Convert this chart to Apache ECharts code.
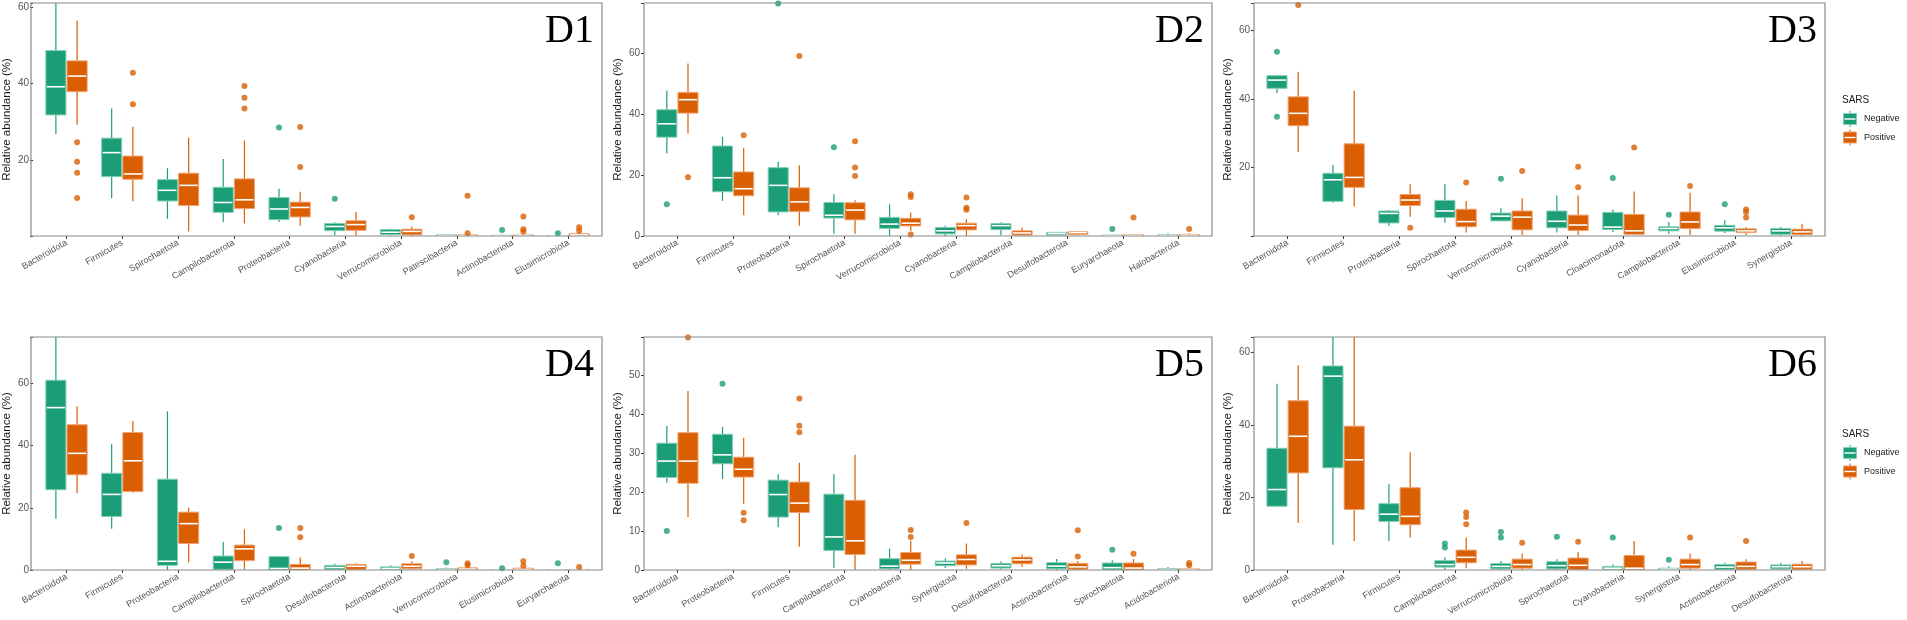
<!DOCTYPE html>
<html lang="en">
<head>
<meta charset="UTF-8">
<title>Relative abundance boxplots D1-D6</title>
<script src="https://cdn.jsdelivr.net/npm/echarts@6/dist/echarts.min.js"></script>
<style>
  html, body { margin: 0; padding: 0; background: #fff; }
  #chart { width: 1907px; height: 620px; }
</style>
</head>
<body>
<div id="chart"></div>
<script>
// ---- data: [min, q1, median, q3, max] per category, outliers as [categoryIndex, value] ----
var d1Cats = ['Bacteroidota','Firmicutes','Spirochaetota','Campilobacterota','Proteobacteria','Cyanobacteria','Verrucomicrobiota','Patescibacteria','Actinobacteriota','Elusimicrobiota'];
var d1Neg = [[26.8,31.8,39.2,48.7,68],[9.9,15.6,21.9,25.7,33.5],[4.5,9.2,12,14.8,17.8],[3.6,6.2,8.8,12.8,20.2],[3.7,4.3,7.1,10.1,12.4],
             [0.2,1.4,2.5,3.3,3.6],[0.1,0.4,1.0,1.7,1.9],[0,0.05,0.15,0.35,0.5],[0,0.02,0.1,0.2,0.4],[0,0.02,0.05,0.1,0.2]];
var d1Pos = [[29.2,37.9,42,46,56.6],[9.1,14.9,16.3,21,28.7],[1.2,8,13.3,16.5,25.9],[3.3,7.2,9.5,15,25.1],[2.7,5,7.5,8.9,11.6],
             [0.1,1.5,3,4,6.3],[0,0.3,1.2,1.8,2.5],[0,0.05,0.1,0.3,0.5],[0,0.05,0.15,0.3,0.6],[0,0.1,0.3,0.6,1.0]];
var d1NegOut = [[4,28.5],[5,9.8],[8,1.6],[9,0.7]];
var d1PosOut = [[0,24.6],[0,19.5],[0,16.6],[0,10],[1,42.9],[1,34.6],[3,39.4],[3,36.3],[3,33.5],[4,28.6],[4,18.1],[6,4.9],[7,10.6],[7,0.7],[8,5.1],[8,1.8],[8,1.2],[9,2.3],[9,1.4]];

var d2Cats = ['Bacteroidota','Firmicutes','Proteobacteria','Spirochaetota','Verrucomicrobiota','Cyanobacteria','Campilobacterota','Desulfobacterota','Euryarchaeota','Halobacterota'];
var d2Neg = [[27.1,32.4,36.8,41.4,47.7],[11.5,14.5,19.1,29.5,32.5],[6.8,7.9,16.6,22.4,24.3],[0.7,5.9,6.8,11,13.7],[0,2.5,3.9,6.1,10.4],
             [0,0.7,1.7,2.8,3.4],[0.3,2.1,3.4,4.1,4.5],[0,0.3,0.8,1.2,1.3],[0,0.05,0.1,0.3,0.5],[0,0.05,0.15,0.4,0.9]];
var d2Pos = [[33.6,40.3,44.7,47.1,56.6],[6.8,13.2,15.5,21,28.9],[3.4,8,11.2,15.8,23.2],[0.7,5.3,8.5,10.9,11.7],[1.7,3.3,4.2,5.8,7.7],
             [0,2,3.4,4.2,5.5],[0,0.3,1,1.7,2.8],[0.2,0.5,1.1,1.4,1.6],[0,0.05,0.15,0.4,0.6],[0,0.05,0.2,0.5,1.0]];
var d2NegOut = [[0,10.4],[2,76.2],[3,29.1],[8,2.3]];
var d2PosOut = [[0,19.3],[1,33],[2,59],[3,31.1],[3,22.5],[3,19.7],[4,13.7],[4,12.8],[4,0.5],[5,12.6],[5,9.3],[5,8.6],[8,6.1],[9,2.3]];

var d3Cats = ['Bacteroidota','Firmicutes','Proteobacteria','Spirochaetota','Verrucomicrobiota','Cyanobacteria','Cloacimonadota','Campilobacterota','Elusimicrobiota','Synergistota'];
var d3Neg = [[41.7,43.1,45.5,46.8,46.8],[9.7,10.1,16.4,18.3,20.7],[2.9,3.8,6.6,7.3,7.6],[3.9,5.4,7.3,10.4,15.1],[4.4,4.4,5.8,6.7,8.1],
             [1,2.4,4.3,7.3,11.8],[1.2,1.9,2.6,6.9,7.7],[0.6,1.5,2.2,2.7,4.1],[0.9,1.4,2.4,3.1,4.6],[0.1,0.5,1.5,2.2,2.6]];
var d3Pos = [[24.5,32.2,35.8,40.6,47.9],[8.6,14.2,17.1,26.9,42.4],[5.6,8.9,10.5,12.1,15.1],[1,2.7,4.2,7.8,10.2],[0.3,1.8,5.5,7.3,11],
             [0.3,1.6,3.2,6.1,11.8],[0.3,0.5,1.5,6.3,13],[0.3,2.2,4.1,7,12.6],[0.3,1,1.5,2.1,2.6],[0.1,0.4,1.2,2,3.6]];
var d3NegOut = [[0,53.8],[0,34.8],[4,16.7],[6,16.9],[7,6.2],[8,9.3]];
var d3PosOut = [[0,67.4],[2,2.4],[3,15.6],[4,19],[5,20.2],[5,14.2],[6,25.8],[7,14.6],[8,7.7],[8,7],[8,5.4]];

var d4Cats = ['Bacteroidota','Firmicutes','Proteobacteria','Campilobacterota','Spirochaetota','Desulfobacterota','Actinobacteriota','Verrucomicrobiota','Elusimicrobiota','Euryarchaeota'];
var d4Neg = [[16.5,25.8,52.2,61,80],[13.3,17.2,24.3,31.1,40.5],[0,1.5,2.8,29.2,51],[0,0.2,2.5,4.5,9],[0,0,0.5,4.3,4.5],
             [0,0.1,0.8,1.5,2],[0,0.1,0.5,1,1.5],[0,0.05,0.1,0.4,0.8],[0,0.02,0.05,0.1,0.2],[0,0.02,0.05,0.1,0.2]];
var d4Pos = [[24.7,30.6,37.5,46.7,52.6],[24.8,25.2,35.1,44.2,47.9],[2.5,8.5,14.9,18.6,20],[0.2,3,6.8,8,13.1],[0,0,0.6,1.8,4],
             [0.2,0.2,1.2,1.8,2.2],[0.2,0.4,1.2,2,2.8],[0,0.05,0.3,0.7,1.2],[0,0.05,0.2,0.6,1],[0,0.02,0.1,0.2,0.4]];
var d4NegOut = [[4,13.5],[7,2.5],[8,0.6],[9,2.2]];
var d4PosOut = [[4,13.5],[4,10.5],[6,4.5],[7,2.2],[7,1.5],[8,2.8],[8,1.4],[9,1]];

var d5Cats = ['Bacteroidota','Proteobacteria','Firmicutes','Campilobacterota','Cyanobacteria','Synergistota','Desulfobacterota','Actinobacteriota','Spirochaetota','Acidobacteriota'];
var d5Neg = [[22.5,23.8,28,32.6,37],[23.4,27.3,29.6,34.9,36.8],[11,13.6,19.4,23.1,24.6],[0.5,5,8.5,19.5,24.7],[0,0.3,1,2.9,5.5],
             [0.5,1.1,1.8,2.3,3],[0.2,0.5,1.1,1.7,2.2],[0,0.3,1,1.9,2.8],[0,0,0.6,1.8,2.5],[0,0.02,0.1,0.4,0.8]];
var d5Pos = [[13.6,22.3,28,35.3,46],[17,23.9,25.9,29,34],[6,14.8,17.2,22.6,27.6],[0,4,7.5,17.9,29.6],[0,1.5,2.5,4.5,7.5],
             [0.3,1.3,2.7,3.9,6.8],[0.8,1.6,2.6,3.3,4],[0,0.2,0.8,1.7,2.3],[0,0,0.5,1.8,2.8],[0,0.02,0.1,0.3,0.6]];
var d5NegOut = [[0,10],[1,47.9],[8,5.2]];
var d5PosOut = [[0,59.8],[1,14.7],[1,12.8],[2,44.1],[2,37.1],[2,35.4],[4,10.3],[4,8.5],[5,12.1],[7,10.2],[7,3.5],[8,4.2],[9,1.8],[9,1.2]];

var d6Cats = ['Bacteroidota','Proteobacteria','Firmicutes','Campilobacterota','Verrucomicrobiota','Spirochaetota','Cyanobacteria','Synergistota','Actinobacteriota','Desulfobacterota'];
var d6Neg = [[17.5,17.6,22.2,33.6,51.4],[7,28.2,53.5,56.3,72],[8,13.4,15.4,18.3,23.8],[0,0.8,1.5,2.6,3.5],[0,0.3,1,1.8,2.5],
             [0,0.3,1.2,2.3,3],[0,0.1,0.5,1,1.5],[0,0.05,0.2,0.5,1],[0,0.2,0.8,1.5,2],[0.1,0.3,0.9,1.4,2]];
var d6Pos = [[13,26.8,36.9,46.7,56.5],[8,16.7,30.4,39.7,72],[9,12.5,14.8,22.7,32.5],[0.5,2,3.5,5.5,9],[0,0.5,1.5,3,4.5],
             [0,0.1,1.3,3.3,5],[0,0.1,0.5,4,8],[0,0.5,1.5,3,4.5],[0,0.2,1,2.2,3],[0,0.2,0.9,1.6,2.5]];
var d6NegOut = [[3,7.3],[3,6.2],[4,10.5],[4,9],[5,9.2],[6,9],[7,2.8]];
var d6PosOut = [[3,15.9],[3,14.6],[3,12.6],[4,7.5],[5,7.8],[7,9],[8,8]];

var groups = ['Negative', 'Positive'];
var groupColors = ['#1b9e77', '#d95f02'];
var groupEdges = ['#82cfb5', '#efa271'];

// panel layout (frame px) and axis setup
var cols = [[31, 602], [644, 1212], [1254, 1825]];
var rows = [[3, 236], [337, 570]];
var panels = [
  { tag: 'D1', cats: d1Cats, neg: d1Neg, pos: d1Pos, negOut: d1NegOut, posOut: d1PosOut, max: 61.2, step: 20, zero: false },
  { tag: 'D2', cats: d2Cats, neg: d2Neg, pos: d2Pos, negOut: d2NegOut, posOut: d2PosOut, max: 76.4, step: 20, zero: true },
  { tag: 'D3', cats: d3Cats, neg: d3Neg, pos: d3Pos, negOut: d3NegOut, posOut: d3PosOut, max: 68, step: 20, zero: false },
  { tag: 'D4', cats: d4Cats, neg: d4Neg, pos: d4Pos, negOut: d4NegOut, posOut: d4PosOut, max: 74.9, step: 20, zero: true },
  { tag: 'D5', cats: d5Cats, neg: d5Neg, pos: d5Pos, negOut: d5NegOut, posOut: d5PosOut, max: 59.9, step: 10, zero: true },
  { tag: 'D6', cats: d6Cats, neg: d6Neg, pos: d6Pos, negOut: d6NegOut, posOut: d6PosOut, max: 64.3, step: 20, zero: true }
];

var FONT = '"Liberation Sans", Arial, sans-serif';

function boxRenderer(side, color, edge) {
  return function (params, api) {
    var c = api.value(0);
    var band = api.size([1, 0])[0];
    var x0 = api.coord([c, 0])[0] + side * band * 0.19;
    var half = band * 0.18;
    function y(i) { return api.coord([c, api.value(i)])[1]; }
    var yMin = y(1), yQ1 = y(2), yMed = y(3), yQ3 = y(4), yMax = y(5);
    return {
      type: 'group',
      children: [
        { type: 'line', shape: { x1: x0, y1: yQ3, x2: x0, y2: yMax }, style: { stroke: color, lineWidth: 1.2 } },
        { type: 'line', shape: { x1: x0, y1: yQ1, x2: x0, y2: yMin }, style: { stroke: color, lineWidth: 1.2 } },
        { type: 'rect', shape: { x: x0 - half, y: yQ3, width: half * 2, height: Math.max(yQ1 - yQ3, 0.8) },
          style: { fill: color, stroke: edge, lineWidth: 1 } },
        { type: 'line', shape: { x1: x0 - half + 1, y1: yMed, x2: x0 + half - 1, y2: yMed },
          style: { stroke: '#ffffff', lineWidth: 1.6 } }
      ]
    };
  };
}

var grids = [], xAxes = [], yAxes = [], series = [], graphics = [];

panels.forEach(function (p, k) {
  var col = cols[k % 3], row = rows[Math.floor(k / 3)];
  var W = col[1] - col[0];
  var band = W / 10.2;      // ggplot discrete expansion: 0.6 band each side
  var inset = band * 0.1;
  grids.push({ left: col[0] + inset, width: band * 10, top: row[0], height: row[1] - row[0] });
  xAxes.push({
    type: 'category', gridIndex: k, data: p.cats, boundaryGap: true,
    axisLine: { show: false },
    axisTick: { show: true, alignWithLabel: true, length: 3, lineStyle: { color: '#333', width: 1 } },
    axisLabel: { interval: 0, rotate: 30, fontSize: 9, color: '#555', margin: 6, fontFamily: FONT }
  });
  yAxes.push({
    type: 'value', gridIndex: k, min: 0, max: p.max, interval: p.step, offset: inset,
    splitLine: { show: false },
    axisLine: { show: false },
    axisTick: { show: true, length: 3, lineStyle: { color: '#333', width: 1 } },
    axisLabel: {
      fontSize: 10, color: '#555', margin: 4, fontFamily: FONT,
      formatter: (function (step, zero) {
        return function (v) { return (v % step === 0 && (v > 0 || zero)) ? String(v) : ''; };
      })(p.step, p.zero)
    },
    name: 'Relative abundance (%)', nameLocation: 'middle', nameGap: 20,
    nameTextStyle: { fontSize: 11.5, color: '#1a1a1a', fontFamily: FONT }
  });

  [p.neg, p.pos].forEach(function (stats, g) {
    var side = g === 0 ? -1 : 1;
    series.push({
      type: 'custom', name: groups[g], xAxisIndex: k, yAxisIndex: k, clip: true,
      renderItem: boxRenderer(side, groupColors[g], groupEdges[g]),
      encode: { x: 0, y: [1, 2, 3, 4, 5] },
      data: stats.map(function (s, i) { return [i].concat(s); }),
      z: 2
    });
  });
  [p.negOut, p.posOut].forEach(function (pts, g) {
    var side = g === 0 ? -1 : 1;
    series.push({
      type: 'scatter', name: groups[g], xAxisIndex: k, yAxisIndex: k,
      symbol: 'circle', symbolSize: 6, symbolOffset: [side * band * 0.19, 0],
      itemStyle: { color: groupColors[g] },
      data: pts, z: 3
    });
  });

  // panel frame and tag
  graphics.push({
    type: 'rect', shape: { x: col[0], y: row[0], width: W, height: row[1] - row[0] },
    style: { fill: 'none', stroke: '#8a8a8a', lineWidth: 1.2 }, z: 10
  });
  graphics.push({
    type: 'text', x: col[1] - 8, y: row[0] + 8,
    style: { text: p.tag, font: '40px "Liberation Serif", "Times New Roman", serif', fill: '#000',
             textAlign: 'right', textVerticalAlign: 'top' }, z: 10
  });
});

// legends (SARS) beside D3 and D6
[100, 434].forEach(function (ly) {
  graphics.push({ type: 'text', x: 1842, y: ly, style: { text: 'SARS', font: '10px ' + FONT, fill: '#1a1a1a', textVerticalAlign: 'middle' } });
  groups.forEach(function (name, g) {
    var cy = ly + 19 + g * 18.5;
    graphics.push({ type: 'line', shape: { x1: 1850, y1: cy - 8, x2: 1850, y2: cy + 8 }, style: { stroke: groupColors[g], lineWidth: 1 } });
    graphics.push({ type: 'rect', shape: { x: 1843.5, y: cy - 5.5, width: 13, height: 11 },
                    style: { fill: groupColors[g], stroke: groupEdges[g], lineWidth: 1 } });
    graphics.push({ type: 'line', shape: { x1: 1844.5, y1: cy, x2: 1855.5, y2: cy }, style: { stroke: '#fff', lineWidth: 1.4 } });
    graphics.push({ type: 'text', x: 1864, y: cy, style: { text: name, font: '9px ' + FONT, fill: '#1a1a1a', textVerticalAlign: 'middle' } });
  });
});

var chart = echarts.init(document.getElementById('chart'), null, { renderer: 'canvas' });
chart.setOption({
  animation: false,
  backgroundColor: '#ffffff',
  textStyle: { fontFamily: FONT },
  grid: grids,
  xAxis: xAxes,
  yAxis: yAxes,
  series: series,
  graphic: graphics
});
</script>
</body>
</html>
